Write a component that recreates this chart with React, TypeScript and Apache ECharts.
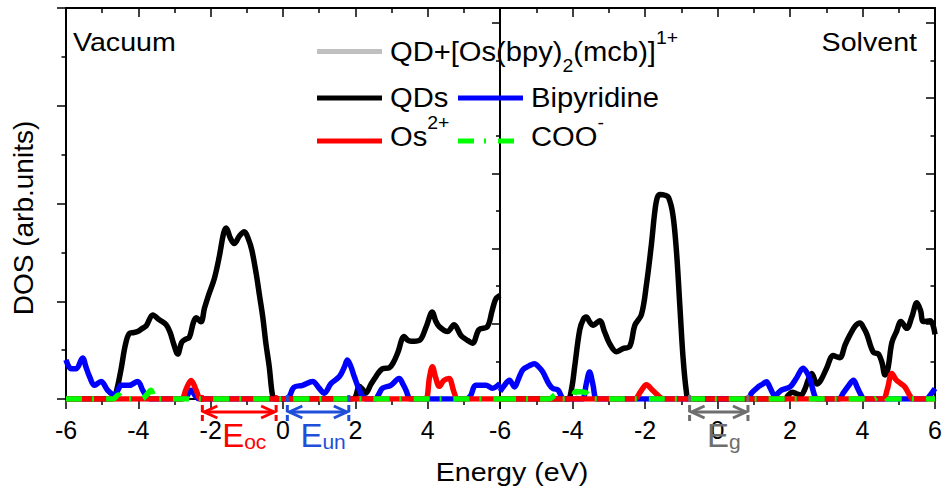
import React, { useEffect, useRef } from 'react';
import * as echarts from 'echarts';

const FONT = "'Liberation Sans', Arial, Helvetica, sans-serif";

// ---- axis ranges ----
const energyMin = -6;
const energyMax = 6;
const energyStep = 2;
const vacuumDosMax = 4;
const solventDosMax = 5.2;

// ---- Vacuum panel (E in eV, DOS in arb. units) ----
const vacuumQD: [number, number][] = [
  [-6, 0], [-4.85, 0], [-4.72, 0], [-4.62, 0.06], [-4.48, 0.3], [-4.36, 0.55], [-4.25, 0.67], [-4.12, 0.68],
  [-4.02, 0.69], [-3.9, 0.72], [-3.78, 0.75], [-3.6, 0.86], [-3.42, 0.81], [-3.23, 0.76], [-3.12, 0.68],
  [-3.02, 0.56], [-2.91, 0.46], [-2.8, 0.58], [-2.7, 0.61], [-2.59, 0.63], [-2.48, 0.78], [-2.4, 0.83],
  [-2.27, 0.79], [-2.17, 0.93], [-2.06, 1.06], [-1.9, 1.23], [-1.76, 1.46], [-1.64, 1.7], [-1.57, 1.75],
  [-1.46, 1.65], [-1.35, 1.59], [-1.2, 1.67], [-1.07, 1.71], [-0.96, 1.64], [-0.86, 1.52], [-0.74, 1.28],
  [-0.65, 1.06], [-0.56, 0.84], [-0.47, 0.56], [-0.38, 0.33], [-0.3, 0.06], [-0.24, 0], [-0.1, 0],
  [1.9, 0], [2.0, 0.02], [2.11, 0.13], [2.2, 0.1], [2.29, 0.06], [2.43, 0.15], [2.57, 0.23], [2.75, 0.31],
  [2.94, 0.32], [3.06, 0.38], [3.17, 0.47], [3.35, 0.64], [3.45, 0.6], [3.54, 0.59], [3.77, 0.6],
  [3.95, 0.73], [4.13, 0.89], [4.22, 0.8], [4.32, 0.74], [4.55, 0.69], [4.73, 0.76], [4.92, 0.65],
  [5.1, 0.6], [5.24, 0.57], [5.42, 0.71], [5.65, 0.74], [5.78, 0.9], [5.88, 1.02], [6, 1.06],
];
const vacuumBipy: [number, number][] = [
  [-6, 0.4], [-5.86, 0.31], [-5.72, 0.31], [-5.54, 0.42], [-5.45, 0.33], [-5.35, 0.23], [-5.21, 0.14],
  [-5.03, 0.18], [-4.85, 0.09], [-4.66, 0.04], [-4.55, 0.1], [-4.48, 0.14], [-4.25, 0.14], [-4.02, 0.18],
  [-3.88, 0.09], [-3.78, 0.03], [-3.68, 0], [-3.55, 0], [-2.9, 0], [-2.8, 0], [-2.68, 0.02], [-2.54, 0.09],
  [-2.42, 0.03], [-2.32, 0], [-2.2, 0], [-0.05, 0], [0.08, 0], [0.18, 0.03], [0.3, 0.12], [0.54, 0.14],
  [0.82, 0.18], [1.0, 0.11], [1.14, 0.06], [1.33, 0.16], [1.56, 0.23], [1.7, 0.33], [1.78, 0.4],
  [1.88, 0.33], [1.97, 0.23], [2.15, 0.06], [2.28, 0], [2.4, 0], [2.55, 0], [2.65, 0.05], [2.75, 0.11],
  [2.98, 0.14], [3.21, 0.21], [3.32, 0.15], [3.4, 0.09], [3.52, 0], [3.65, 0], [4.95, 0], [5.05, 0],
  [5.18, 0.03], [5.33, 0.14], [5.61, 0.14], [5.79, 0.11], [6, 0.16],
];
const vacuumOs: [number, number][] = [
  [-6, 0], [-2.92, 0], [-2.8, 0], [-2.68, 0.1], [-2.54, 0.19], [-2.4, 0.09], [-2.28, 0], [-2.15, 0],
  [3.82, 0], [3.95, 0], [4.05, 0.22], [4.13, 0.33], [4.22, 0.22], [4.32, 0.13], [4.45, 0.19], [4.59, 0.21],
  [4.72, 0.08], [4.82, 0], [4.95, 0], [6, 0],
];
const vacuumCOO: [number, number][] = [
  [-6, 0], [-4.8, 0], [-4.7, 0], [-4.55, 0.04], [-4.42, 0], [-4.3, 0], [-3.92, 0], [-3.8, 0.03],
  [-3.65, 0.09], [-3.55, 0], [-3.45, 0], [6, 0],
];

// ---- Solvent panel ----
const solventQD: [number, number][] = [
  [-6, 0], [-4.25, 0], [-4.12, 0], [-4.02, 0.15], [-3.94, 0.43], [-3.8, 0.92], [-3.7, 1.06], [-3.62, 1.09],
  [-3.52, 1.02], [-3.44, 0.98], [-3.25, 1.04], [-3.12, 0.9], [-2.98, 0.74], [-2.79, 0.63], [-2.61, 0.67],
  [-2.42, 0.7], [-2.28, 0.98], [-2.1, 1.12], [-1.96, 1.52], [-1.82, 2.07], [-1.73, 2.49], [-1.66, 2.68],
  [-1.58, 2.72], [-1.45, 2.71], [-1.35, 2.68], [-1.23, 2.45], [-1.13, 1.95], [-1.04, 1.25], [-0.95, 0.55],
  [-0.86, 0.1], [-0.8, 0], [-0.65, 0], [1.75, 0], [1.86, 0], [1.95, 0.05], [2.06, 0.09], [2.18, 0.07],
  [2.3, 0.05], [2.4, 0.12], [2.5, 0.25], [2.6, 0.34], [2.74, 0.2], [2.85, 0.25], [3.01, 0.41], [3.19, 0.58],
  [3.3, 0.56], [3.38, 0.55], [3.52, 0.72], [3.65, 0.85], [3.8, 0.97], [3.93, 1.01], [4.04, 0.94],
  [4.12, 0.86], [4.3, 0.62], [4.44, 0.6], [4.54, 0.48], [4.62, 0.32], [4.7, 0.4], [4.81, 0.75],
  [4.94, 0.9], [5.06, 1.03], [5.22, 0.94], [5.36, 1.09], [5.5, 1.28], [5.6, 1.18], [5.68, 1.03],
  [5.87, 1.04], [6, 0.86],
];
const solventBipy: [number, number][] = [
  [-6, 0.1], [-5.88, 0.18], [-5.74, 0.25], [-5.6, 0.16], [-5.48, 0.28], [-5.37, 0.39], [-5.2, 0.44],
  [-5.05, 0.47], [-4.92, 0.42], [-4.82, 0.36], [-4.65, 0.2], [-4.54, 0.14], [-4.4, 0.12], [-4.3, 0.03],
  [-4.22, 0], [-3.82, 0], [-3.72, 0], [-3.62, 0.2], [-3.53, 0.36], [-3.44, 0.2], [-3.34, 0], [-3.22, 0],
  [0.75, 0], [0.85, 0], [0.94, 0.08], [1.12, 0.16], [1.25, 0.2], [1.35, 0.23], [1.45, 0.15], [1.58, 0.05],
  [1.77, 0.12], [2.0, 0.16], [2.18, 0.28], [2.36, 0.41], [2.48, 0.34], [2.56, 0.25], [2.69, 0.03],
  [2.76, 0], [3.25, 0], [3.35, 0], [3.47, 0.08], [3.62, 0.18], [3.75, 0.25], [3.85, 0.16], [3.93, 0.08],
  [4.05, 0], [4.15, 0], [5.65, 0], [5.75, 0], [5.88, 0.06], [6, 0.14],
];
const solventOs: [number, number][] = [
  [-6, 0], [-2.4, 0], [-2.28, 0], [-2.12, 0.1], [-1.96, 0.19], [-1.8, 0.12], [-1.6, 0.03], [-1.5, 0],
  [-1.4, 0], [4.48, 0], [4.58, 0], [4.68, 0.12], [4.81, 0.34], [4.92, 0.26], [5.04, 0.21], [5.17, 0.16],
  [5.3, 0.05], [5.38, 0], [5.48, 0], [6, 0],
];
const solventCOO: [number, number][] = [
  [-6, 0], [-4.78, 0], [-4.65, 0], [-4.45, 0.06], [-4.3, 0], [-4.15, 0], [-4.02, 0], [-3.9, 0.1],
  [-3.62, 0.08], [-3.5, 0], [-3.4, 0], [4.2, 0], [4.3, 0], [4.55, 0.06], [4.7, 0], [4.8, 0], [6, 0],
];

// ---- labels ----
const panelTitles = ['Vacuum', 'Solvent'];
const xAxisTitle = 'Energy (eV)';
const yAxisTitle = 'DOS (arb.units)';

const seriesColors = {
  total: '#c0c0c0',
  qd: '#000000',
  bipy: '#0000ff',
  os: '#ff0000',
  coo: '#00ff00',
};
const cooDash = [16, 10, 2, 12];

const legendItems = [
  { rich: 'QD+[Os(bpy){sub|2}(mcb)]{sup|1+}', color: seriesColors.total, dash: null as number[] | null, col: 0, row: 0 },
  { rich: 'QDs', color: seriesColors.qd, dash: null, col: 0, row: 1 },
  { rich: 'Bipyridine', color: seriesColors.bipy, dash: null, col: 1, row: 1 },
  { rich: 'Os{sup|2+}', color: seriesColors.os, dash: null, col: 0, row: 2 },
  { rich: 'COO{sup|-}', color: seriesColors.coo, dash: cooDash, col: 1, row: 2 },
];

// energy gap markers (eV)
const gapMarks = [
  { panel: 0, from: -2.23, to: -0.19, sub: 'oc', color: '#ff0000' },
  { panel: 0, from: 0.12, to: 1.82, sub: 'un', color: '#1f4fd8' },
  { panel: 1, from: -0.77, to: 0.84, sub: 'g', color: '#6e6e6e' },
];

const axisLineStyle = { color: '#000', width: 2 };
const tickStyle = { color: '#000', width: 1.5 };

function xAxisDef(gridIndex: number, position: 'top' | 'bottom', withLabels: boolean, hideMax: boolean) {
  const top = position === 'top';
  return {
    gridIndex,
    type: 'value',
    min: energyMin,
    max: energyMax,
    interval: energyStep,
    position,
    axisLine: { show: true, onZero: false, lineStyle: axisLineStyle },
    axisTick: { show: true, inside: top, length: top ? 9 : 10, lineStyle: tickStyle },
    minorTick: { show: true, splitNumber: 2, length: top ? 5 : 6, lineStyle: tickStyle },
    axisLabel: {
      show: withLabels,
      margin: 18,
      fontSize: 25,
      fontFamily: FONT,
      color: '#000',
      formatter: (v: number) => (hideMax && v === energyMax ? '' : String(v)),
    },
    splitLine: { show: false },
  };
}

function yAxisDef(gridIndex: number, position: 'left' | 'right', max: number, inside: boolean, len: number) {
  return {
    gridIndex,
    type: 'value',
    min: 0,
    max,
    interval: 1,
    position,
    axisLine: { show: true, onZero: false, lineStyle: axisLineStyle },
    axisTick: { show: true, inside, length: len, lineStyle: tickStyle },
    minorTick: { show: true, splitNumber: 2, length: len / 2, lineStyle: tickStyle },
    axisLabel: { show: false },
    splitLine: { show: false },
  };
}

function lineSeries(name: string, data: [number, number][], color: string, xi: number, yi: number, dash?: number[] | null) {
  return {
    name,
    type: 'line',
    data,
    xAxisIndex: xi,
    yAxisIndex: yi,
    showSymbol: false,
    symbol: 'none',
    smooth: 0.35,
    silent: true,
    lineStyle: { color, width: 5.5, type: dash ? dash : 'solid' },
  };
}

export default function App() {
  const ref = useRef<HTMLDivElement>(null);

  useEffect(() => {
    if (!ref.current) return;
    const chart = echarts.init(ref.current, null, { renderer: 'svg' });
    chart.setOption({
      animation: false,
      backgroundColor: '#ffffff',
      grid: [
        { left: 66, top: 8, width: 434, height: 391, containLabel: false },
        { left: 500, top: 8, width: 435, height: 391, containLabel: false },
      ],
      xAxis: [
        xAxisDef(0, 'bottom', true, true),
        xAxisDef(0, 'top', false, false),
        xAxisDef(1, 'bottom', true, false),
        xAxisDef(1, 'top', false, false),
      ],
      yAxis: [
        yAxisDef(0, 'left', vacuumDosMax, false, 9),
        yAxisDef(1, 'left', solventDosMax, false, 8),
        yAxisDef(1, 'right', solventDosMax, true, 9),
      ],
      series: [
        lineSeries('QDs', vacuumQD, seriesColors.qd, 0, 0),
        lineSeries('Bipyridine', vacuumBipy, seriesColors.bipy, 0, 0),
        lineSeries('Os2+', vacuumOs, seriesColors.os, 0, 0),
        lineSeries('COO-', vacuumCOO, seriesColors.coo, 0, 0, cooDash),
        lineSeries('QDs ', solventQD, seriesColors.qd, 2, 1),
        lineSeries('Bipyridine ', solventBipy, seriesColors.bipy, 2, 1),
        lineSeries('Os2+ ', solventOs, seriesColors.os, 2, 1),
        lineSeries('COO- ', solventCOO, seriesColors.coo, 2, 1, cooDash),
      ],
    });

    const els: any[] = [];
    const txt = (x: number, y: number, text: string, align: string, vAlign: string, fontSize = 26) => ({
      type: 'text',
      x,
      y,
      z: 20,
      style: {
        text,
        fontFamily: FONT,
        fontSize,
        fill: '#000',
        align,
        textAlign: align,
        verticalAlign: vAlign,
        textVerticalAlign: vAlign,
      },
    });

    // panel titles & axis titles
    els.push({ ...txt(73, 42, panelTitles[0], 'left', 'middle'), scaleX: 1.1 });
    els.push({ ...txt(917, 42, panelTitles[1], 'right', 'middle'), scaleX: 1.1 });
    els.push({ ...txt(512, 472, xAxisTitle, 'center', 'middle'), scaleX: 1.1 });
    els.push({ ...txt(23, 218, yAxisTitle, 'center', 'middle', 28), rotation: Math.PI / 2 });

    // legend
    const colX = [317, 458];
    const rowLineY = [51.5, 98, 141];
    const rowTextY = [52, 98, 137];
    legendItems.forEach((it) => {
      const x = colX[it.col];
      const yl = rowLineY[it.row];
      els.push({
        type: 'line',
        z: 20,
        shape: { x1: x, y1: yl, x2: x + 65, y2: yl },
        style: { stroke: it.color, lineWidth: 5, lineDash: it.dash || null },
      });
      els.push({
        type: 'text',
        x: x + 73,
        y: rowTextY[it.row],
        z: 20,
        scaleX: 1.08,
        style: {
          text: `{m|${it.rich.replace(/\{(sub|sup)\|[^}]*\}/g, (s) => '}' + s + '{m|').replace(/\{m\|\}$/, '')}}`,
          align: 'left',
          textAlign: 'left',
          verticalAlign: 'middle',
          textVerticalAlign: 'middle',
          rich: {
            m: { fontFamily: FONT, fontSize: 27, lineHeight: 46, fill: '#000', verticalAlign: 'middle' },
            sub: { fontFamily: FONT, fontSize: 18, lineHeight: 17, fill: '#000', verticalAlign: 'bottom' },
            sup: { fontFamily: FONT, fontSize: 18, lineHeight: 22, fill: '#000', verticalAlign: 'top' },
          },
        },
      });
    });

    // gap markers
    gapMarks.forEach((m) => {
      const finder = m.panel === 0 ? { xAxisIndex: 0, yAxisIndex: 0 } : { xAxisIndex: 2, yAxisIndex: 1 };
      const p1 = chart.convertToPixel(finder as any, [m.from, 0]) as number[];
      const p2 = chart.convertToPixel(finder as any, [m.to, 0]) as number[];
      const x1 = p1[0];
      const x2 = p2[0];
      const yb = p1[1];
      const ya = yb + 13;
      const st = { stroke: m.color, lineWidth: 3, fill: null };
      [x1, x2].forEach((xv) => {
        els.push({ type: 'line', z: 30, shape: { x1: xv, y1: yb - 4, x2: xv, y2: yb + 22 }, style: { ...st, lineDash: [7, 3] } });
      });
      els.push({ type: 'line', z: 30, shape: { x1: x1 + 2, y1: ya, x2: x2 - 2, y2: ya }, style: st });
      els.push({ type: 'polyline', z: 30, shape: { points: [[x1 + 15, ya - 6], [x1 + 2, ya], [x1 + 15, ya + 6]] }, style: st });
      els.push({ type: 'polyline', z: 30, shape: { points: [[x2 - 15, ya - 6], [x2 - 2, ya], [x2 - 15, ya + 6]] }, style: st });
      els.push({
        type: 'text',
        z: 30,
        x: (x1 + x2) / 2 + 5,
        y: yb + 53,
        style: {
          text: `{e|E}{s|${m.sub}}`,
          align: 'center',
          textAlign: 'center',
          verticalAlign: 'bottom',
          textVerticalAlign: 'bottom',
          rich: {
            e: { fontFamily: FONT, fontSize: 33, lineHeight: 33, fill: m.color, verticalAlign: 'bottom' },
            s: { fontFamily: FONT, fontSize: 21, lineHeight: 21, fill: m.color, verticalAlign: 'bottom' },
          },
        },
      });
    });

    chart.setOption({ graphic: { elements: els } });

    return () => chart.dispose();
  }, []);

  return <div ref={ref} style={{ position: 'absolute', left: 0, top: 0, width: 947, height: 490 }} />;
}
